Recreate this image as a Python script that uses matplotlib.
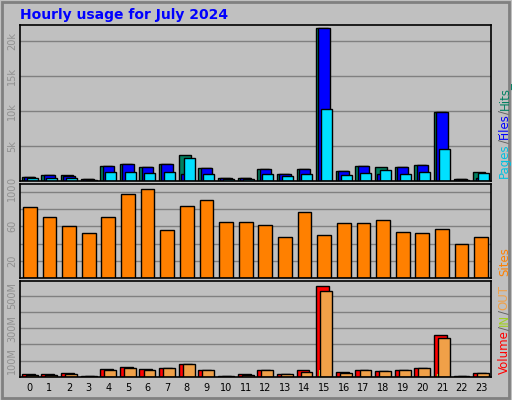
import matplotlib
matplotlib.use("Agg")
import matplotlib.pyplot as plt
from matplotlib.patches import Rectangle
import numpy as np

hours = list(range(24))
hits  = [0.6,0.8,0.86,0.3,2.15,2.4,2.0,2.4,3.7,1.8,0.5,0.5,1.7,1.0,1.7,21.9,1.4,2.1,2.0,2.0,2.25,9.9,0.3,1.3]
files = [0.55,0.8,0.7,0.3,2.1,2.4,2.0,2.4,1.05,1.8,0.5,0.5,1.7,1.0,1.7,21.9,1.4,2.1,1.0,2.0,2.25,9.9,0.3,0.5]
pages = [0.4,0.4,0.5,0.2,1.25,1.25,1.15,1.25,3.3,1.0,0.35,0.35,1.0,0.7,1.0,10.3,0.8,1.15,1.6,1.0,1.3,4.6,0.2,1.15]
sites = [82,71,60,52,71,97,103,56,83,90,65,65,62,47,76,50,64,64,67,53,52,57,40,47]
volume = [16,16,23,8,51,64,51,57,82,45,8,16,45,21,41,558,33,45,39,45,57,255,8,27]
vin    = [0,0,0,0,0,0,0,0,0,0,0,0,0,0,0,41,0,0,0,0,0,18,0,0]
vout   = [14,14,21,8,45,57,45,57,82,45,8,14,45,19,33,526,27,45,39,45,57,242,8,27]

BG = "#c0c0c0"
fig = plt.figure(figsize=(5.12, 4.0), dpi=100, facecolor=BG)
fig.patches.append(Rectangle((0.004, 0.005), 0.99, 0.99, transform=fig.transFigure,
                             fill=False, edgecolor="#808080", lw=2))
fig.text(0.04, 0.962, "Hourly usage for July 2024", color="#0000ff", fontsize=10,
         fontweight="bold", va="center", ha="left")

x = np.arange(24)
L, W = 0.039, 0.92

def setup(ax, ymax, ticks, labels):
    ax.set_facecolor(BG)
    ax.set_xlim(-0.5, 23.5)
    ax.set_ylim(0, ymax)
    ax.set_yticks(ticks)
    ax.set_yticklabels(labels, rotation=90, va="center", color="#909090", fontsize=7)
    ax.tick_params(axis="y", length=0, pad=2)
    ax.grid(axis="y", color="#808080", lw=1)
    ax.set_axisbelow(True)
    for s in ax.spines.values():
        s.set_color("black"); s.set_linewidth(1.2)

ax1 = fig.add_axes([L, 0.5475, W, 0.39])
setup(ax1, 22.3, [0, 5, 10, 15, 20], ["0", "5k", "10k", "15k", "20k"])
kw = dict(edgecolor="black", linewidth=1)
ax1.bar(x - 0.1, hits, 0.62, color="#008060", **kw)
ax1.bar(x, files, 0.58, color="#0000ff", **kw)
ax1.bar(x + 0.12, pages, 0.56, color="#00e0ff", **kw)
ax1.set_xticks([])

ax2 = fig.add_axes([L, 0.305, W, 0.235])
setup(ax2, 109, [20, 60, 100], ["20", "60", "100"])
ax2.grid(axis="y", color="#808080", lw=1)
ax2.set_yticks([20, 40, 60, 80, 100], minor=False)
ax2.set_yticklabels(["20", "", "60", "", "100"], rotation=90, va="center", color="#909090", fontsize=7)
ax2.bar(x, sites, 0.7, color="#ff8000", **kw)
ax2.set_xticks([])

ax3 = fig.add_axes([L, 0.0575, W, 0.24])
setup(ax3, 589, [100, 200, 300, 400, 500], ["100M", "", "300M", "", "500M"])
ax3.bar(x - 0.08, volume, 0.66, color="#ff0000", **kw)
ax3.bar(x - 0.18, vin, 0.12, color="#c0ff40", edgecolor="none")
ax3.bar(x + 0.1, vout, 0.6, color="#f0a048", **kw)
ax3.set_xticks(x)
ax3.set_xticklabels([str(h) for h in hours], fontsize=7)
ax3.tick_params(axis="x", length=0, pad=4)

def vlabel(parts, ybot):
    y = ybot
    for txt, col in parts:
        t = fig.text(0.985, y, txt, color=col, rotation=90, fontsize=8.5,
                     ha="center", va="bottom")
        fig.canvas.draw()
        bb = t.get_window_extent()
        y += bb.height / fig.bbox.height

vlabel([("Pages", "#00c0e0"), ("/", "#606060"), ("Files", "#0000ff"), ("/", "#606060"), ("Hits_", "#008060")], 0.555)
vlabel([("Sites", "#ff8000")], 0.31)
vlabel([("Volume", "#ff0000"), ("/", "#606060"), ("IN", "#a0d020"), ("/", "#606060"), ("OUT", "#f0a048")], 0.065)

fig.savefig("out.png", dpi=100, facecolor=BG)
